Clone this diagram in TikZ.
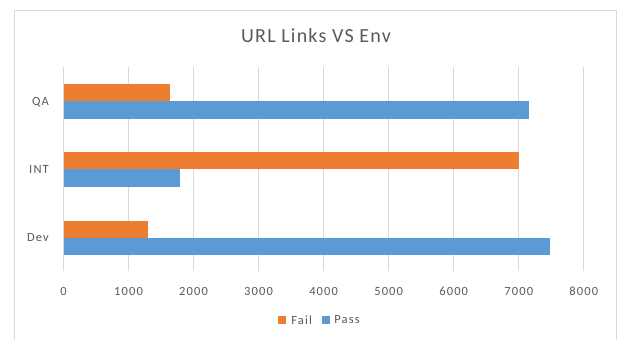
\documentclass[tikz,border=0pt]{standalone}
\usepackage{fontspec}
\usetikzlibrary{positioning}
\setmainfont{Carlito}
\newfontfamily\titlefont[LetterSpace=6]{Carlito}
\newfontfamily\axisfont[LetterSpace=9]{Carlito}
\definecolor{failorange}{HTML}{ED7D31}
\definecolor{passblue}{HTML}{5B9BD5}
\definecolor{gridgray}{HTML}{D9D9D9}
\definecolor{textgray}{HTML}{595959}

\begin{document}
\begin{tikzpicture}[x=1pt,y=-1pt,
		failbar/.style={fill=failorange},
		passbar/.style={fill=passblue},
		gridline/.style={draw=gridgray,line width=1pt},
		axislabel/.style={text=textgray,font=\axisfont\fontsize{12.5}{15}\selectfont,inner sep=0pt},
		legendkey/.style={minimum size=8pt,inner sep=0pt}]
		
		\useasboundingbox (0,0) rectangle (619,340);
		\draw[gridgray,line width=1pt] (14.5,345) -- (14.5,10.5) -- (616.5,10.5) -- (616.5,345);
		
		\node[anchor=base,text=textgray,font=\titlefont\fontsize{20}{24}\selectfont,inner sep=0pt] (title) at (316,42.7) {URL Links VS Env};
		
		% chart area, x in data units
		\begin{scope}[shift={(63.5,0)},x=0.06503pt]
			\foreach \x in {0,1000,...,8000}
			{
				\draw[gridline] (\x,67.3) -- (\x,271);
				\node[axislabel,anchor=base] (t\x) at (\x,295) {\x};
			}
			\foreach \name/\lab/\y/\fail/\pass in {qa/QA/101/1634/7163,int/INT/169.4/7006/1785,dev/Dev/237.7/1304/7486}
			{
				\fill[failbar] (0,\y-17) rectangle (\fail,\y);
				\fill[passbar] (0,\y) rectangle (\pass,\y+17.5);
				\node[axislabel,anchor=base east] (\name) at ([xshift=-14.5pt]0,\y+4.2) {\lab};
			}
		\end{scope}
		
		% legend
		\node[legendkey,fill=failorange] (failkey) at (282.3,320) {};
		\node[axislabel,anchor=west,right=4.7pt of failkey] (failtext) {Fail};
		\node[legendkey,fill=passblue] (passkey) at (326.3,320) {};
		\node[axislabel,anchor=west,right=3.7pt of passkey] (passtext) {Pass};
	\end{tikzpicture}
\end{document}
